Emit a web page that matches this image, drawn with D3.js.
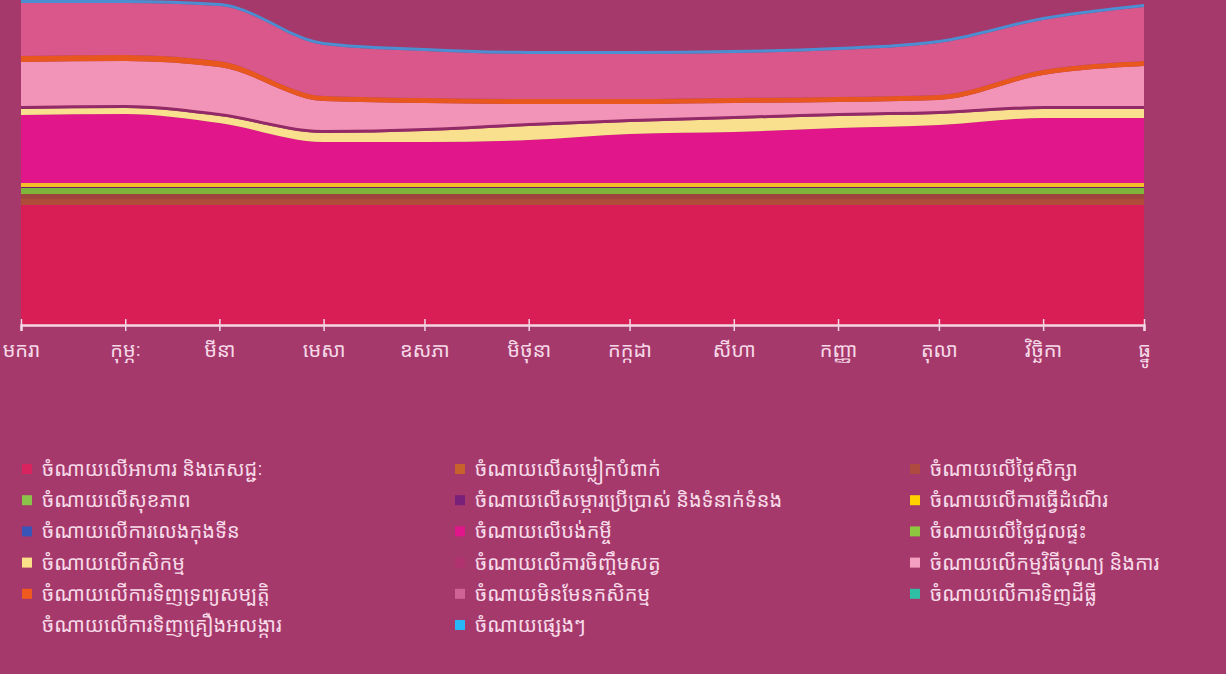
<!DOCTYPE html>
<html>
<head>
<meta charset="utf-8">
<script src="https://cdn.jsdelivr.net/npm/d3@7"></script>
<style>
  html, body { margin: 0; padding: 0; background: #a6396b; }
  svg { display: block; }
  text { font-family: "Noto Sans Khmer", "Khmer OS", "Khmer OS System", "Noto Sans", sans-serif; }
</style>
</head>
<body>
<svg id="chart" width="1226" height="674"></svg>
<script>
// Months (Khmer) – first day of each month of the year
const monthLabels = ["មករា", "កុម្ភៈ", "មីនា", "មេសា", "ឧសភា", "មិថុនា", "កក្កដា", "សីហា", "កញ្ញា", "តុលា", "វិច្ឆិកា", "ធ្នូ"];
const monthDates = monthLabels.map((_, i) => new Date(2019, i, 1));

// Expense categories, in stacking order (bottom to top)
const seriesNames = [
  "ចំណាយលើអាហារ និងភេសជ្ជៈ",
  "ចំណាយលើសម្លៀកបំពាក់",
  "ចំណាយលើថ្លៃសិក្សា",
  "ចំណាយលើសុខភាព",
  "ចំណាយលើសម្ភារប្រើប្រាស់ និងទំនាក់ទំនង",
  "ចំណាយលើការធ្វើដំណើរ",
  "ចំណាយលើការលេងកុងទីន",
  "ចំណាយលើបង់កម្ចី",
  "ចំណាយលើថ្លៃជួលផ្ទះ",
  "ចំណាយលើកសិកម្ម",
  "ចំណាយលើការចិញ្ចឹមសត្វ",
  "ចំណាយលើកម្មវិធីបុណ្យ និងការ",
  "ចំណាយលើការទិញទ្រព្យសម្បត្តិ",
  "ចំណាយមិនមែនកសិកម្ម",
  "ចំណាយលើការទិញដីធ្លី",
  "ចំណាយលើការទិញគ្រឿងអលង្ការ",
  "ចំណាយផ្សេងៗ"
];

const seriesColors = [
  "#d81e55", "#b04c3a", "#a0443e", "#7db63a", "#6e1c6c", "#f5bf2a",
  "#3d5db2", "#e0168a", "#8cc540", "#f8e08e", "#922a68", "#f294b8",
  "#e8581e", "#d9578a", "#2cb5a0", "#a6396b", "#4b8fd2"
];

// Legend marker colours (same categories)
const legendColors = [
  "#d8235e", "#c7622c", "#ae4a40", "#8bc34a", "#78207a", "#ffd200",
  "#3a55b8", "#e0168a", "#8dc63f", "#fbe08a", "#b0336f", "#f5a0c0",
  "#f05a1e", "#cf6396", "#2ebfa5", "#a6396b", "#29b6f6"
];

// Monthly values for each category
const food       = [48.0, 48.0, 48.0, 48.0, 48.0, 48.0, 48.0, 48.0, 48.0, 48.0, 48.0, 48.0];
const clothing   = [2.4, 2.4, 2.4, 2.4, 2.4, 2.4, 2.4, 2.4, 2.4, 2.4, 2.4, 2.4];
const tuition    = [2.0, 2.0, 2.0, 2.0, 2.0, 2.0, 2.0, 2.0, 2.0, 2.0, 2.0, 2.0];
const health     = [2.4, 2.4, 2.4, 2.4, 2.4, 2.4, 2.4, 2.4, 2.4, 2.4, 2.4, 2.4];
const utilities  = [0.4, 0.4, 0.4, 0.4, 0.4, 0.4, 0.4, 0.4, 0.4, 0.4, 0.4, 0.4];
const travel     = [1.6, 1.6, 1.6, 1.6, 1.6, 1.6, 1.6, 1.6, 1.6, 1.6, 1.6, 1.6];
const gambling   = [0, 0, 0, 0, 0, 0, 0, 0, 0, 0, 0, 0];
const loan       = [27.2, 27.6, 24.0, 16.4, 16.4, 17.2, 19.6, 20.4, 22.0, 23.2, 26.0, 26.0];
const rent       = [0, 0, 0, 0, 0, 0, 0, 0, 0, 0, 0, 0];
const agriculture= [2.4, 2.4, 2.8, 3.6, 4.4, 5.6, 4.8, 5.2, 4.8, 4.4, 3.6, 3.6];
const livestock  = [1.2, 1.2, 1.2, 1.2, 1.2, 1.2, 1.2, 1.2, 1.2, 1.2, 1.2, 1.2];
const ceremonies = [17.6, 17.6, 18.4, 11.6, 10.0, 7.6, 6.0, 5.2, 4.4, 4.4, 12.4, 16.0];
const property   = [2.4, 2.4, 2.4, 2.0, 2.0, 2.0, 2.0, 2.0, 2.0, 2.0, 2.0, 2.0];
const nonFarm    = [21.2, 20.8, 22.0, 20.4, 18.8, 18.0, 18.0, 18.0, 18.8, 20.8, 20.0, 21.6];
const land       = [0, 0, 0, 0, 0, 0, 0, 0, 0, 0, 0, 0];
const jewelry    = [0, 0, 0, 0, 0, 0, 0, 0, 0, 0, 0, 0];
const other      = [1.2, 1.2, 1.2, 1.2, 1.2, 1.2, 1.2, 1.2, 1.2, 1.2, 1.2, 1.2];

const seriesValues = [food, clothing, tuition, health, utilities, travel, gambling, loan, rent,
  agriculture, livestock, ceremonies, property, nonFarm, land, jewelry, other];

// Legend layout: three columns, filled row by row
const legendCols = 3;

const rows = monthDates.map((d, i) => {
  const r = { date: d };
  seriesNames.forEach((n, k) => { r[n] = seriesValues[k][i]; });
  return r;
});

const svg = d3.select("#chart");
const margin = { left: 21, right: 1144, top: 0, bottom: 325 };

const x = d3.scaleTime()
  .domain([monthDates[0], monthDates[monthDates.length - 1]])
  .range([margin.left, margin.right]);

const y = d3.scaleLinear()
  .domain([0, 130])
  .range([margin.bottom, margin.top]);

const stack = d3.stack().keys(seriesNames).order(d3.stackOrderNone).offset(d3.stackOffsetNone);
const layers = stack(rows);

const area = d3.area()
  .x(d => x(d.data.date))
  .y0(d => y(d[0]))
  .y1(d => y(d[1]))
  .curve(d3.curveMonotoneX);

svg.append("g")
  .selectAll("path")
  .data(layers)
  .join("path")
  .attr("d", area)
  .attr("fill", (d, i) => seriesColors[i]);

// X axis
const xAxis = d3.axisBottom(x)
  .tickValues(monthDates)
  .tickFormat((d, i) => monthLabels[i])
  .tickSize(6)
  .tickPadding(12);

const gx = svg.append("g")
  .attr("transform", `translate(0,${margin.bottom})`)
  .call(xAxis);

gx.select(".domain").attr("stroke", "#f3d6e4").attr("stroke-width", 2.5);
gx.selectAll(".tick line").attr("stroke", "#f3d6e4").attr("stroke-width", 1.5).attr("y1", -6);
gx.selectAll(".tick text")
  .attr("fill", "#f6d9e8")
  .attr("font-size", 20);

// Legend
const legend = svg.append("g");
const colX = [22, 455, 910];
const rowY0 = 469, rowStep = 31.2;

seriesNames.forEach((name, i) => {
  const col = i % legendCols;
  const row = Math.floor(i / legendCols);
  const g = legend.append("g")
    .attr("transform", `translate(${colX[col]},${rowY0 + row * rowStep})`);
  g.append("rect")
    .attr("x", 0).attr("y", -5)
    .attr("width", 10).attr("height", 10)
    .attr("fill", legendColors[i]);
  g.append("text")
    .attr("x", 20).attr("y", 0)
    .attr("dy", "0.35em")
    .attr("fill", "#f7dbe9")
    .attr("font-size", 20)
    .text(name);
});
</script>
</body>
</html>
